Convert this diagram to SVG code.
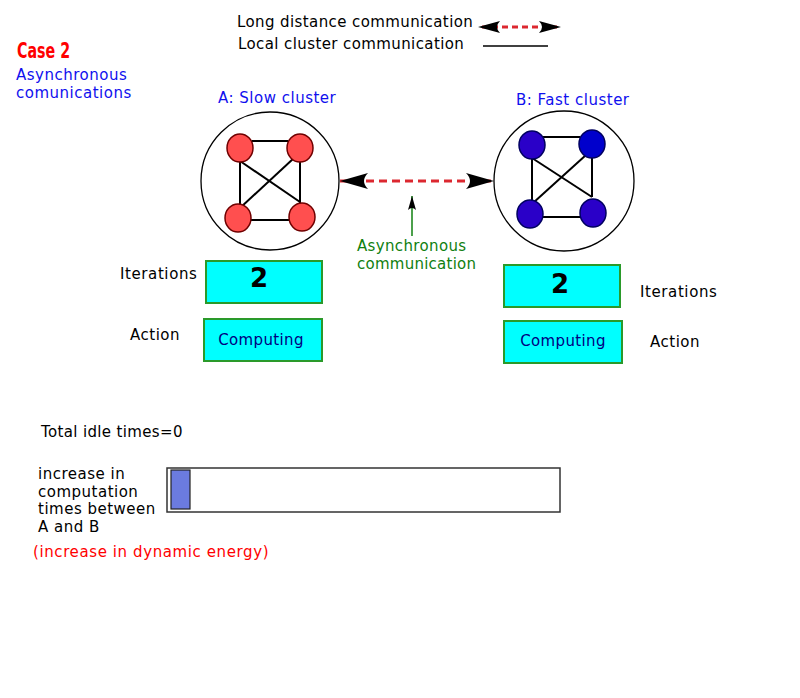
<svg xmlns="http://www.w3.org/2000/svg" width="800" height="698" viewBox="0 0 800 698">
<defs>
<style>
text{font-family:"DejaVu Sans","Liberation Sans",sans-serif;font-size:15px;letter-spacing:0.5px;fill:#000}
.blue{fill:#1010ee}
.green{fill:#108010}
.red{fill:#ff0000}
.edge{stroke:#000;stroke-width:2;fill:none}
.ring{fill:#fff;stroke:#000;stroke-width:1.3}
.na{fill:#ff4f4f;stroke:#700000;stroke-width:1.5}
.nb{fill:#2a00c8;stroke:#000060;stroke-width:1.5}
.box{fill:#00ffff;stroke:#2a9a2a;stroke-width:2}
.dash{stroke:#dc2830;stroke-width:3;stroke-dasharray:8,5;fill:none}
</style>
<marker id="headR" viewBox="0 0 28 16" refX="28" refY="8" markerWidth="28" markerHeight="16" markerUnits="userSpaceOnUse" orient="auto">
<path d="M0,0 L28,8 L0,16 Q8,8 0,0 Z" fill="#000"/>
</marker>
<marker id="headL" viewBox="0 0 28 16" refX="0" refY="8" markerWidth="28" markerHeight="16" markerUnits="userSpaceOnUse" orient="auto">
<path d="M28,0 L0,8 L28,16 Q20,8 28,0 Z" fill="#000"/>
</marker>
<marker id="smallHead" viewBox="0 0 8 14" refX="4" refY="0" markerWidth="8" markerHeight="14" markerUnits="userSpaceOnUse" orient="0">
<path d="M4,0 L8,14 Q4,10 0,14 Z" fill="#000"/>
</marker>
</defs>
<rect width="800" height="698" fill="#fff"/>

<g id="title">
<text x="17" y="58" style="font-family:'DejaVu Sans Condensed','DejaVu Sans',sans-serif;font-weight:bold;font-size:22px;letter-spacing:0;fill:#ff0000" transform="translate(17,58) scale(0.72,1) translate(-17,-58)">Case 2</text>
<text x="16" y="80" class="blue">Asynchronous</text>
<text x="16" y="98" class="blue">comunications</text>
</g>

<g id="legend">
<text x="237" y="27" style="letter-spacing:0.4px">Long distance communication</text>
<text x="238" y="49" style="letter-spacing:0.4px">Local cluster communication</text>
<line x1="482" y1="27" x2="557" y2="27" class="dash" stroke-width="2.5" style="stroke-dasharray:6,4"/>
<path d="M478,27 L500,21 Q494,27 500,33 Z" fill="#000"/>
<path d="M561,27 L539,21 Q545,27 539,33 Z" fill="#000"/>
<line x1="483" y1="46" x2="548" y2="46" stroke="#000" stroke-width="1.5"/>
</g>

<g id="clusterA">
<text x="218" y="103" class="blue">A: Slow cluster</text>
<circle cx="270" cy="181" r="69" class="ring"/>
<g class="edge">
<line x1="252" y1="141" x2="288" y2="141"/>
<line x1="240" y1="161" x2="240" y2="208"/>
<line x1="300" y1="161" x2="300" y2="203"/>
<line x1="248" y1="220" x2="290" y2="220"/>
<line x1="240" y1="161" x2="300" y2="202"/>
<line x1="294" y1="158" x2="240" y2="208"/>
</g>
<ellipse cx="240" cy="148" rx="13" ry="14" class="na"/>
<ellipse cx="300" cy="148" rx="13" ry="14" class="na"/>
<ellipse cx="238" cy="218" rx="13" ry="14" class="na"/>
<ellipse cx="302" cy="217" rx="13" ry="14" class="na"/>
</g>

<g id="clusterB">
<text x="516" y="105" class="blue">B: Fast cluster</text>
<circle cx="564" cy="181" r="70" class="ring"/>
<g class="edge">
<line x1="543" y1="137" x2="580" y2="137"/>
<line x1="532" y1="158" x2="532" y2="203"/>
<line x1="592" y1="158" x2="592" y2="197"/>
<line x1="540" y1="217" x2="582" y2="217"/>
<line x1="532" y1="158" x2="592" y2="197"/>
<line x1="586" y1="155" x2="533" y2="203"/>
</g>
<ellipse cx="532" cy="145" rx="13" ry="14" class="nb"/>
<ellipse cx="592" cy="144" rx="13" ry="14" class="nb" style="fill:#0000cc"/>
<ellipse cx="530" cy="214" rx="13" ry="14" class="nb"/>
<ellipse cx="593" cy="213" rx="13" ry="14" class="nb"/>
</g>

<g id="connectors">
<line x1="340" y1="181" x2="494" y2="181" class="dash" marker-start="url(#headL)" marker-end="url(#headR)"/>
<line x1="412" y1="196" x2="412" y2="236" stroke="#108010" stroke-width="1.5" marker-start="url(#smallHead)"/>
</g>

<g id="asyncLabel">
<text x="357" y="251" class="green" style="letter-spacing:0.35px">Asynchronous</text>
<text x="357" y="269" class="green" style="letter-spacing:0.25px">communication</text>
</g>

<g id="boxesA">
<text x="120" y="279" style="letter-spacing:0.6px">Iterations</text>
<rect x="206" y="261" width="116" height="42" class="box"/>
<text x="259" y="287" text-anchor="middle" style="font-size:26px;font-weight:bold;letter-spacing:0">2</text>
<text x="130" y="340">Action</text>
<rect x="204" y="319" width="118" height="42" class="box"/>
<text x="261" y="345" text-anchor="middle" style="letter-spacing:0.35px;fill:#000080">Computing</text>
</g>

<g id="boxesB">
<rect x="504" y="265" width="116" height="42" class="box"/>
<text x="560" y="293" text-anchor="middle" style="font-size:26px;font-weight:bold;letter-spacing:0">2</text>
<text x="640" y="297" style="letter-spacing:0.6px">Iterations</text>
<rect x="504" y="321" width="118" height="42" class="box"/>
<text x="563" y="346" text-anchor="middle" style="letter-spacing:0.35px;fill:#000080">Computing</text>
<text x="650" y="347">Action</text>
</g>

<g id="summary">
<text x="41" y="437" style="letter-spacing:0.35px">Total idle times=0</text>
<text x="38" y="479">increase in</text>
<text x="38" y="497">computation</text>
<text x="38" y="514">times between</text>
<text x="38" y="532">A and B</text>
<rect x="167" y="468" width="393" height="44" fill="#fff" stroke="#333" stroke-width="1.5"/>
<rect x="171" y="470" width="19" height="39" fill="#6b7be0" stroke="#222" stroke-width="1.2"/>
<text x="33" y="557" class="red" style="letter-spacing:0.6px">(increase in dynamic energy)</text>
</g>
</svg>
